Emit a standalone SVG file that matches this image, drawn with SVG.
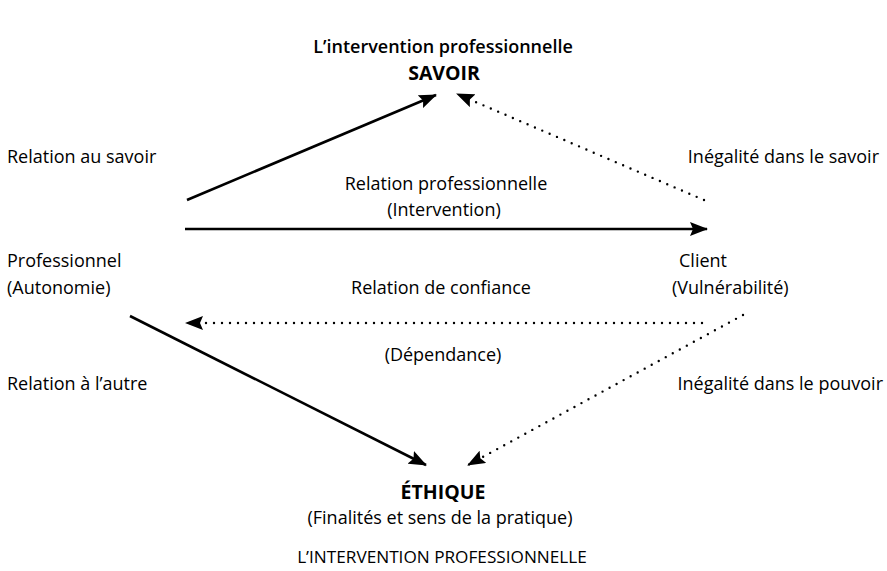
<svg xmlns="http://www.w3.org/2000/svg" width="887" height="571" viewBox="0 0 887 571">
<style>
text{font-family:"Open Sans","Noto Sans","Liberation Sans",sans-serif;font-size:18px;fill:#000}
.b{font-weight:700;font-size:19.5px}
.t{font-weight:600;font-size:18px}
.u{font-size:17.2px}
.c{text-anchor:middle}
.r{text-anchor:end}
.s{stroke:#000;stroke-width:2.6;fill:none}
.d{stroke:#000;stroke-width:2.4;fill:none;stroke-dasharray:0 8;stroke-linecap:round}
</style>
<defs>
<marker id="ah" viewBox="0 0 18 14" refX="17" refY="7" markerWidth="18" markerHeight="14" markerUnits="userSpaceOnUse" orient="auto">
<path d="M0,0 L18,7 L0,14 L3,7 Z" fill="#000"/>
</marker>
</defs>
<rect width="887" height="571" fill="#fff"/>
<text class="t c" x="443" y="53">L’intervention professionnelle</text>
<g id="savoir"><text class="b c" x="444" y="80">SAVOIR</text></g>
<g id="professionnel">
<text x="7" y="267">Professionnel</text>
<text x="7" y="294">(Autonomie)</text>
</g>
<g id="client">
<text x="679" y="267">Client</text>
<text x="672" y="294">(Vulnérabilité)</text>
</g>
<g id="ethique">
<text class="b c" x="443" y="499">ÉTHIQUE</text>
<text class="c" x="440" y="524">(Finalités et sens de la pratique)</text>
</g>
<g id="connectors">
<line class="s" x1="187" y1="200" x2="436" y2="95" marker-end="url(#ah)"/>
<line class="d" x1="704" y1="200" x2="457" y2="94" marker-end="url(#ah)"/>
<line class="s" x1="185" y1="229" x2="707" y2="229" marker-end="url(#ah)"/>
<line class="d" x1="702" y1="323" x2="186" y2="323" marker-end="url(#ah)"/>
<line class="s" x1="130" y1="316" x2="426" y2="465" marker-end="url(#ah)"/>
<line class="d" x1="743" y1="315" x2="468" y2="465" marker-end="url(#ah)"/>
</g>
<g id="labels">
<text x="7" y="163">Relation au savoir</text>
<text class="r" x="879" y="163">Inégalité dans le savoir</text>
<text class="c" x="446" y="190">Relation professionnelle</text>
<text class="c" x="444" y="216">(Intervention)</text>
<text class="c" x="441" y="294">Relation de confiance</text>
<text class="c" x="443" y="361">(Dépendance)</text>
<text x="7" y="390">Relation à l’autre</text>
<text class="r" x="883" y="390">Inégalité dans le pouvoir</text>
<text class="u c" x="442" y="563">L’INTERVENTION PROFESSIONNELLE</text>
</g>
</svg>
